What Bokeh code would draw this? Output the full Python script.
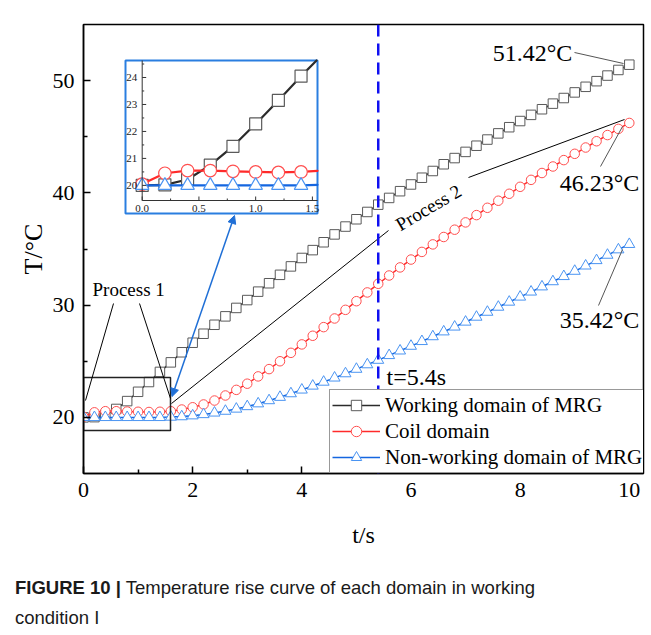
import math
from bokeh.plotting import figure
from bokeh.layouts import column
from bokeh.models import (Range1d, Label, Span, Legend, LegendItem, Arrow,
                          NormalHead, ColumnDataSource, FixedTicker, Div)
from bokeh.embed import file_html
from bokeh.resources import INLINE
from bokeh.core.properties import value

# ---------------- data ----------------
t = [0.0, 0.2, 0.4, 0.6, 0.8, 1.0, 1.2, 1.4, 1.6, 1.8,
     2.0, 2.2, 2.4, 2.6, 2.8, 3.0, 3.2, 3.4, 3.6, 3.8,
     4.0, 4.2, 4.4, 4.6, 4.8, 5.0, 5.2, 5.4, 5.6, 5.8,
     6.0, 6.2, 6.4, 6.6, 6.8, 7.0, 7.2, 7.4, 7.6, 7.8,
     8.0, 8.2, 8.4, 8.6, 8.8, 9.0, 9.2, 9.4, 9.6, 9.8, 10.0]

working = [20.00, 20.02, 20.22, 20.75, 21.45, 22.28, 23.15, 24.05, 24.90, 25.80,
           26.65, 27.45, 28.25, 29.00, 29.75, 30.45, 31.20, 31.95, 32.70, 33.45,
           34.20, 34.90, 35.60, 36.30, 37.00, 37.65, 38.30, 38.95, 39.55, 40.15,
           40.75, 41.35, 41.95, 42.55, 43.10, 43.65, 44.20, 44.75, 45.30, 45.85,
           46.40, 46.95, 47.45, 47.95, 48.45, 48.95, 49.45, 49.95, 50.45, 50.95, 51.42]

coil = [20.05, 20.45, 20.55, 20.55, 20.52, 20.50, 20.48, 20.50, 20.55, 20.70,
        20.90, 21.15, 21.50, 21.95, 22.45, 23.00, 23.65, 24.30, 25.00, 25.75,
        26.50, 27.27, 28.04, 28.81, 29.58, 30.35, 31.13, 31.90, 32.64, 33.36,
        34.06, 34.74, 35.41, 36.07, 36.72, 37.37, 38.02, 38.67, 39.30, 39.92,
        40.54, 41.16, 41.77, 42.35, 42.92, 43.48, 44.04, 44.60, 45.15, 45.70, 46.23]

nonworking = [20.00, 20.00, 20.00, 20.00, 20.00, 20.00, 20.00, 20.00, 20.03, 20.07,
              20.15, 20.26, 20.40, 20.56, 20.75, 20.97, 21.22, 21.50, 21.80, 22.12,
              22.45, 22.80, 23.15, 23.52, 23.90, 24.30, 24.70, 25.10, 25.52, 25.93,
              26.35, 26.77, 27.20, 27.63, 28.06, 28.50, 28.94, 29.38, 29.83, 30.28,
              30.73, 31.18, 31.64, 32.10, 32.56, 33.03, 33.50, 33.98, 34.46, 34.94, 35.42]

series_names = ["Working domain of MRG", "Coil domain", "Non-working domain of MRG"]
x_ticks = [0, 2, 4, 6, 8, 10]
x_minor = [1, 3, 5, 7, 9]
y_ticks = [20, 30, 40, 50]
y_minor = [25, 35, 45]
inset_x_ticks = [0.0, 0.5, 1.0, 1.5]
inset_x_labels = ["0.0", "0.5", "1.0", "1.5"]
inset_y_ticks = [20, 21, 22, 23, 24]
inset_y_labels = ["20", "21", "22", "23", "24"]
t_mark = 5.4
end_labels = ["51.42°C", "46.23°C", "35.42°C"]
x_title = "t/s"
y_title = "T/°C"
caption_bold = "FIGURE 10 |"
caption_text = "Temperature rise curve of each domain in working"
caption_text2 = "condition I"

# ---------------- layout (page pixels) ----------------
W, H = 651, 560
CAP_H = 75
FR_L, FR_T, FR_W, FR_H = 83, 24, 560, 449      # frame in page px
X0, X1 = 0.0, 10.26
Y0, Y1 = 15.0, 55.0

def px2x(px):
    return X0 + (px - FR_L) * (X1 - X0) / FR_W

def py2y(py):
    return Y1 - (py - FR_T) * (Y1 - Y0) / FR_H

# inset plot area (page px) and its data limits
IN_L, IN_R, IN_T, IN_B = 141.7, 317.0, 60.0, 200.0
IX0, IX1 = 0.0, 1.545
IY0, IY1 = 19.44, 24.63
sx_in = (IN_R - IN_L) / (IX1 - IX0)
sy_in = (IN_B - IN_T) / (IY1 - IY0)
ix_start = IX0 - (IN_L - FR_L) / sx_in
ix_end = ix_start + FR_W / sx_in
iy_start = IY0 - (FR_T + FR_H - IN_B) / sy_in
iy_end = iy_start + FR_H / sy_in

def ipx(px):
    return IX0 + (px - IN_L) / sx_in

def ipy(py):
    return IY0 + (IN_B - py) / sy_in

SERIF = "Liberation Serif"
SANS = "Liberation Sans"

BLK_LINE, BLK_MK = "#2b2b2b", "#5a5a5a"
RED_LINE, RED_MK = "#ff2a2a", "#ff4f4f"
BLU_LINE, BLU_MK = "#1466e0", "#4a94f2"

p = figure(width=W, height=H, output_backend="svg", toolbar_location=None,
           x_range=Range1d(X0, X1), y_range=Range1d(Y0, Y1),
           min_border_left=FR_L, min_border_top=FR_T,
           min_border_right=W - FR_L - FR_W,
           min_border_bottom=H - FR_T - FR_H)
p.extra_x_ranges = {"ix": Range1d(ix_start, ix_end)}
p.extra_y_ranges = {"iy": Range1d(iy_start, iy_end)}
p.grid.visible = False
p.outline_line_color = "black"
p.outline_line_width = 1.5
p.background_fill_color = "white"
p.border_fill_color = "white"

for ax in (p.xaxis[0], p.yaxis[0]):
    ax.axis_line_width = 1.5
    ax.major_tick_in = 7
    ax.major_tick_out = 0
    ax.minor_tick_in = 4
    ax.minor_tick_out = 0
    ax.major_tick_line_width = 1.5
    ax.minor_tick_line_width = 1.5
    ax.major_label_text_font = SERIF
    ax.major_label_text_font_size = "22px"
    ax.major_label_text_color = "black"
    ax.major_label_standoff = 9
    ax.axis_label_text_font = SERIF
    ax.axis_label_text_font_style = "normal"
    ax.axis_label_text_color = "black"
p.xaxis.ticker = FixedTicker(ticks=x_ticks, minor_ticks=x_minor)
p.yaxis.ticker = FixedTicker(ticks=y_ticks, minor_ticks=y_minor)
p.xaxis.axis_label = x_title
p.yaxis.axis_label = y_title
p.xaxis.axis_label_text_font_size = "24px"
p.yaxis.axis_label_text_font_size = "26px"
p.xaxis.axis_label_standoff = 22
p.yaxis.axis_label_standoff = 2

# ---------------- main series ----------------
src = ColumnDataSource(dict(t=t, w=working, c=coil, n=nonworking))
rl1 = p.line("t", "w", source=src, line_color=BLK_LINE, line_width=1.5)
rs1 = p.scatter("t", "w", source=src, marker="square", size=9.5, line_color=BLK_MK,
                fill_color="white", line_width=1)
rl2 = p.line("t", "c", source=src, line_color=RED_LINE, line_width=1.5)
rs2 = p.scatter("t", "c", source=src, marker="circle", size=9.5, line_color=RED_MK,
                fill_color="white", line_width=1)
rl3 = p.line("t", "n", source=src, line_color=BLU_LINE, line_width=1.5)
rs3 = p.scatter("t", "n", source=src, marker="triangle", size=11, line_color=BLU_MK,
                fill_color="white", line_width=1)

# ---------------- annotations (main) ----------------
def seg(x0p, y0p, x1p, y1p, color="black", width=1.0):
    p.line([px2x(x0p), px2x(x1p)], [py2y(y0p), py2y(y1p)],
           line_color=color, line_width=width)

# Process 1 box and lines
p.line([px2x(83), px2x(170), px2x(170), px2x(83), px2x(83)],
       [py2y(377), py2y(377), py2y(430), py2y(430), py2y(377)],
       line_color="#222222", line_width=1.5)
seg(113, 303, 85, 400)
seg(139, 303, 170, 398)
p.add_layout(Label(x=px2x(92), y=py2y(289), text="Process 1", text_font=SERIF,
                   text_font_size="19px", text_align="left", text_baseline="middle",
                   text_color="black"))

# Process 2 line and label
seg(171, 403, 388, 230)
seg(468, 177, 624, 119)
p.add_layout(Label(x=px2x(428), y=py2y(207), text="Process 2", text_font=SERIF,
                   text_font_size="19px", text_align="center", text_baseline="middle",
                   angle=0.53, text_color="black"))

# blue double arrow between box and inset
p.add_layout(Arrow(x_start=px2x(171.5), y_start=py2y(396), x_end=px2x(234), y_end=py2y(215),
                   line_color="#1f6fd6", line_width=1.5,
                   start=NormalHead(size=8, fill_color="#1f6fd6", line_color="#1f6fd6"),
                   end=NormalHead(size=8, fill_color="#1f6fd6", line_color="#1f6fd6")))

# dashed marker line
p.add_layout(Span(location=t_mark, dimension="height", line_color="#1010f0",
                  line_width=2.5, line_dash="12 7"))
p.add_layout(Label(x=px2x(386), y=py2y(376), text="t=%.1fs" % t_mark, text_font=SERIF,
                   text_font_size="24px", text_align="left", text_baseline="middle",
                   text_color="black"))

# end value labels with leader lines
label_pos = [(532, 52), (599, 182), (599, 319)]
leaders = [(574, 52, 623, 63), (600, 166, 622, 126), (598, 305, 622, 249)]
for txt, (lx, ly), (a, b, c, d) in zip(end_labels, label_pos, leaders):
    seg(a, b, c, d, color="#555555", width=1)
    p.add_layout(Label(x=px2x(lx), y=py2y(ly), text=txt, text_font=SERIF,
                       text_font_size="24px", text_align="center", text_baseline="middle",
                       text_color="black"))

# ---------------- inset ----------------
FB_L, FB_R, FB_T, FB_B = 125, 317, 60, 213
p.quad(left=[ipx(FB_L)], right=[ipx(FB_R)], top=[ipy(FB_T)], bottom=[ipy(FB_B)],
       fill_color="white", line_color="#2a7ee0", line_width=2,
       x_range_name="ix", y_range_name="iy")

def clip_segments(xs, ys, x0, x1, y0, y1):
    out_x, out_y = [], []
    for i in range(len(xs) - 1):
        ax, ay, bx, by = xs[i], ys[i], xs[i + 1], ys[i + 1]
        dx, dy = bx - ax, by - ay
        u0, u1 = 0.0, 1.0
        ok = True
        for pp, qq in ((-dx, ax - x0), (dx, x1 - ax), (-dy, ay - y0), (dy, y1 - ay)):
            if pp == 0:
                if qq < 0:
                    ok = False
                    break
            else:
                r = qq / pp
                if pp < 0:
                    u0 = max(u0, r)
                else:
                    u1 = min(u1, r)
        if not ok or u0 > u1:
            continue
        out_x.append([ax + u0 * dx, ax + u1 * dx])
        out_y.append([ay + u0 * dy, ay + u1 * dy])
    return out_x, out_y

inset_specs = [
    (working, BLK_LINE, BLK_MK, "square", 12),
    (coil, RED_LINE, RED_MK, "circle", 12.5),
    (nonworking, BLU_LINE, BLU_MK, "triangle", 13.5),
]
for ys, lc, mc, mk, sz in inset_specs:
    cx, cy = clip_segments(t, ys, IX0, IX1, IY0, IY1)
    p.multi_line(cx, cy, line_color=lc, line_width=2.2, line_cap="round",
                 line_join="round", x_range_name="ix", y_range_name="iy")
    px_, py_ = [], []
    for a, b in zip(t, ys):
        if IX0 <= a <= IX1 and IY0 <= b <= IY1:
            px_.append(a)
            py_.append(b)
    p.scatter(px_, py_, marker=mk, size=sz, line_color=mc, fill_color="white",
              line_width=1.2, x_range_name="ix", y_range_name="iy")

# inset axes
p.line([IX0, IX0], [IY0, IY1], line_color="#333333", line_width=1,
       x_range_name="ix", y_range_name="iy")
p.line([IX0, IX1], [IY0, IY0], line_color="#333333", line_width=1,
       x_range_name="ix", y_range_name="iy")
tick_lx = 4 / sx_in
tick_ly = 4 / sy_in
p.segment(x0=[IX0] * len(inset_y_ticks), y0=inset_y_ticks,
          x1=[IX0 + tick_lx] * len(inset_y_ticks), y1=inset_y_ticks,
          line_color="#333333", line_width=1, x_range_name="ix", y_range_name="iy")
minor_y = [20.5, 21.5, 22.5, 23.5, 24.5]
p.segment(x0=[IX0] * len(minor_y), y0=minor_y, x1=[IX0 + tick_lx / 2] * len(minor_y),
          y1=minor_y, line_color="#333333", line_width=1, x_range_name="ix", y_range_name="iy")
p.segment(x0=inset_x_ticks, y0=[IY0] * len(inset_x_ticks), x1=inset_x_ticks,
          y1=[IY0 + tick_ly] * len(inset_x_ticks), line_color="#333333", line_width=1,
          x_range_name="ix", y_range_name="iy")
minor_x = [0.25, 0.75, 1.25]
p.segment(x0=minor_x, y0=[IY0] * len(minor_x), x1=minor_x,
          y1=[IY0 + tick_ly / 2] * len(minor_x), line_color="#333333", line_width=1,
          x_range_name="ix", y_range_name="iy")
p.text(x=[IX0] * len(inset_y_ticks), y=inset_y_ticks, text=inset_y_labels,
       text_font=value(SERIF), text_font_size=value("11px"), text_align="right",
       text_baseline="middle", x_offset=-5, text_color="#222222",
       x_range_name="ix", y_range_name="iy")
p.text(x=inset_x_ticks, y=[IY0] * len(inset_x_ticks), text=inset_x_labels,
       text_font=value(SERIF), text_font_size=value("11px"), text_align="center",
       text_baseline="top", y_offset=4, text_color="#222222",
       x_range_name="ix", y_range_name="iy")

# ---------------- legend ----------------
leg_items = [LegendItem(label=series_names[0], renderers=[rl1, rs1]),
             LegendItem(label=series_names[1], renderers=[rl2, rs2]),
             LegendItem(label=series_names[2], renderers=[rl3, rs3])]
legend = Legend(items=leg_items, location=(246, 0), margin=0, padding=2, spacing=0,
                glyph_width=48, glyph_height=26, label_height=26, label_standoff=5,
                label_text_font=SERIF, label_text_font_size="21px",
                label_text_color="black", border_line_color="#333333",
                border_line_width=1, background_fill_color="white",
                background_fill_alpha=1.0)
p.add_layout(legend)

# ---------------- caption ----------------
cap = Div(width=W, height=CAP_H,
          text=('<div style="font-family: \'Liberation Sans\', Arial, sans-serif; '
                'font-size: 18.5px; line-height: 30px; color: #1a1a1a; '
                'padding-left: 10px; padding-top: 8px; white-space: nowrap;">'
                '<b>%s</b> %s<br>%s</div>') % (caption_bold, caption_text, caption_text2))

layout = column(p, cap, spacing=0)
open("out.html", "w").write(file_html(layout, INLINE))
